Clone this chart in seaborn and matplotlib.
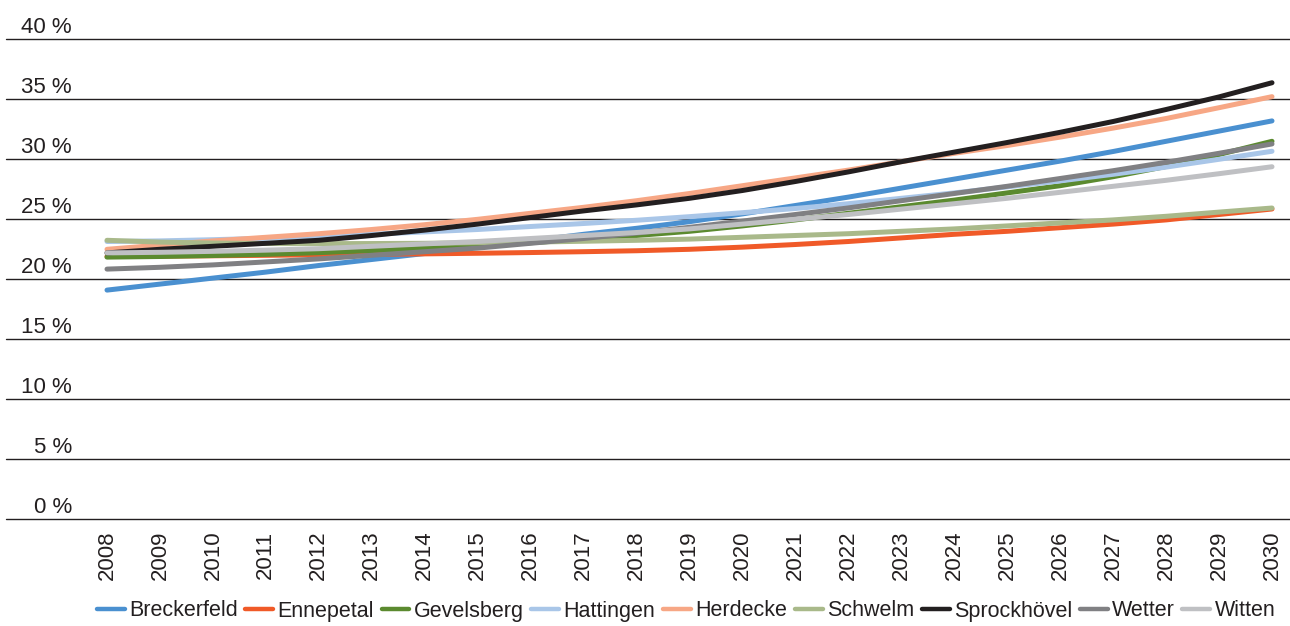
import matplotlib
matplotlib.use("Agg")
import matplotlib.pyplot as plt
import matplotlib.font_manager as fm
from matplotlib import transforms
import seaborn as sns
import pandas as pd

years = list(range(2008, 2031))

breckerfeld = [19.1, 19.6, 20.1, 20.6, 21.15, 21.65, 22.15, 22.7, 23.2, 23.75, 24.25, 24.8,
               25.45, 26.15, 26.85, 27.6, 28.35, 29.1, 29.85, 30.65, 31.5, 32.35, 33.2]
ennepetal = [21.9, 21.93, 21.96, 22.0, 22.04, 22.08, 22.12, 22.17, 22.23, 22.3, 22.38, 22.5,
             22.68, 22.9, 23.15, 23.45, 23.75, 24.0, 24.3, 24.6, 24.95, 25.4, 25.86]
gevelsberg = [21.85, 21.9, 21.98, 22.08, 22.22, 22.4, 22.6, 22.8, 23.05, 23.35, 23.65, 24.0,
              24.45, 24.95, 25.5, 26.05, 26.6, 27.2, 27.8, 28.55, 29.4, 30.4, 31.5]
hattingen = [23.15, 23.2, 23.3, 23.42, 23.57, 23.75, 23.95, 24.15, 24.4, 24.65, 24.92, 25.22,
             25.55, 25.9, 26.3, 26.75, 27.2, 27.7, 28.2, 28.75, 29.35, 30.0, 30.67]
herdecke = [22.5, 22.85, 23.2, 23.5, 23.8, 24.15, 24.55, 25.0, 25.5, 26.0, 26.55, 27.15,
            27.8, 28.45, 29.1, 29.8, 30.5, 31.15, 31.85, 32.6, 33.4, 34.3, 35.22]
schwelm = [23.25, 23.1, 23.02, 22.98, 22.97, 22.98, 23.0, 23.05, 23.1, 23.17, 23.25, 23.35,
           23.5, 23.65, 23.8, 24.0, 24.2, 24.45, 24.7, 24.95, 25.25, 25.6, 25.94]
sprockhoevel = [22.2, 22.5, 22.75, 23.0, 23.25, 23.65, 24.1, 24.6, 25.15, 25.7, 26.2, 26.75,
                27.4, 28.15, 28.95, 29.8, 30.6, 31.4, 32.25, 33.15, 34.15, 35.2, 36.38]
wetter = [20.85, 21.0, 21.2, 21.45, 21.7, 22.0, 22.3, 22.6, 23.0, 23.4, 23.85, 24.33,
          24.85, 25.4, 25.95, 26.55, 27.15, 27.75, 28.4, 29.05, 29.75, 30.5, 31.28]
witten = [22.2, 22.25, 22.33, 22.43, 22.55, 22.75, 22.95, 23.15, 23.4, 23.65, 23.9, 24.2,
          24.6, 25.0, 25.4, 25.85, 26.3, 26.75, 27.25, 27.75, 28.25, 28.8, 29.38]

towns = ["Breckerfeld", "Ennepetal", "Gevelsberg", "Hattingen", "Herdecke",
         "Schwelm", "Sprockhövel", "Wetter", "Witten"]
series = [breckerfeld, ennepetal, gevelsberg, hattingen, herdecke,
          schwelm, sprockhoevel, wetter, witten]
colors = ["#4a90d0", "#f05a28", "#5b8a2f", "#a9c6e8", "#f7a785",
          "#a9b98a", "#231f20", "#808083", "#bfc0c3"]

y_ticks = [0, 5, 10, 15, 20, 25, 30, 35, 40]
y_labels = [f"{v} %" for v in y_ticks]

df = pd.DataFrame({
    "Jahr": years * len(towns),
    "Anteil": [v for s in series for v in s],
    "Stadt": [t for t in towns for _ in years],
})

sns.set_theme(style="white")
names = {f.name for f in fm.fontManager.ttflist}
base_font = "Liberation Sans" if "Liberation Sans" in names else "DejaVu Sans"
plt.rcParams["font.family"] = [base_font, "DejaVu Sans"]

fig = plt.figure(figsize=(12.9, 6.26), dpi=100)
W, H = 1290, 626
ax = fig.add_axes([6 / W, (H - 519.3) / H, 1284 / W, 480 / H])

sns.lineplot(data=df, x="Jahr", y="Anteil", hue="Stadt", hue_order=towns,
             palette=colors, linewidth=3.6, ax=ax, legend=True)

ax.set_xlim(2008 - 101 / 52.95, 2030 + 18 / 52.95)
ax.set_ylim(0, 40)
ax.set_xlabel("")
ax.set_ylabel("")
for s in ax.spines.values():
    s.set_visible(False)

ax.set_yticks(y_ticks)
ax.set_yticklabels([])
ax.tick_params(axis="y", length=0)
ax.yaxis.grid(True, color="#231f20", linewidth=1.0)
ax.xaxis.grid(False)
ax.set_axisbelow(True)
for gl in ax.get_ygridlines():
    gl.set_clip_on(False)

ax.set_xticks(years)
ax.set_xticklabels([str(y) for y in years], rotation=90, fontsize=16, color="#231f20")
ax.tick_params(axis="x", length=0, pad=8)

# y labels sit just above their gridlines, right-aligned in the left margin
trans = transforms.blended_transform_factory(fig.transFigure, ax.transData)
trans = trans + transforms.ScaledTranslation(0, 6 / 100, fig.dpi_scale_trans)
for v, lab in zip(y_ticks, y_labels):
    ax.text(72 / W, v, lab, transform=trans, ha="right", va="baseline",
            fontsize=16, color="#231f20")

handles, labels = ax.get_legend_handles_labels()
ax.get_legend().remove()
leg = fig.legend(handles, labels, loc="center", bbox_to_anchor=(686 / W, 1 - 611 / H),
                 ncol=9, frameon=False, handlelength=1.3, handletextpad=0.2,
                 columnspacing=0.35, borderaxespad=0,
                 prop={"size": 15.5})
for line in leg.get_lines():
    line.set_linewidth(3.2)
for t in leg.get_texts():
    t.set_color("#231f20")

fig.savefig("out.png", dpi=100)
